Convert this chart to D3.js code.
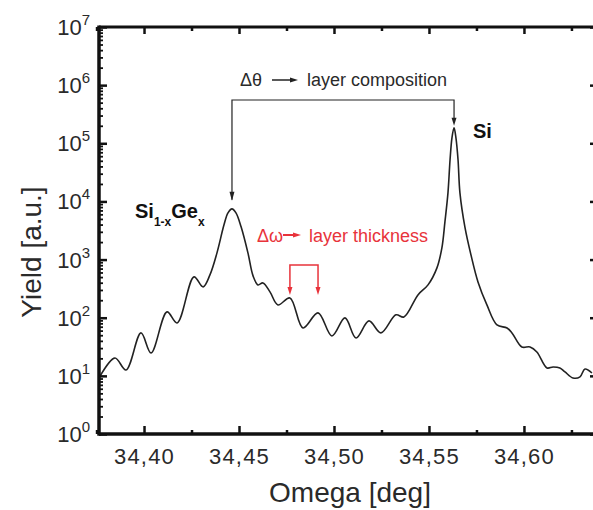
<!DOCTYPE html>
<html>
<head>
<meta charset="utf-8">
<script src="https://cdn.jsdelivr.net/npm/d3@7"></script>
<style>
  html, body { margin: 0; padding: 0; background: #fff; }
  svg { display: block; font-family: "Liberation Sans", Arial, sans-serif; }
</style>
</head>
<body>
<svg id="chart" width="593" height="510"></svg>
<script>
// Rocking curve scan: omega (deg) vs. measured yield (a.u.)
const omega = [
  34.3763, 34.3847, 34.3905, 34.3984, 34.4037, 34.4121, 34.4174, 34.4263, 34.4311,
  34.4347, 34.4384, 34.4421, 34.4442, 34.4463, 34.4484, 34.4511, 34.4547, 34.4574,
  34.4600, 34.4626, 34.4663, 34.4705, 34.4768, 34.4837, 34.4916, 34.4989, 34.5058,
  34.5116, 34.5184, 34.5247, 34.5326, 34.5368, 34.5442, 34.5495, 34.5542, 34.5568,
  34.5584, 34.5600, 34.5611, 34.5621, 34.5632, 34.5642, 34.5653, 34.5663, 34.5689,
  34.5721, 34.5758, 34.5805, 34.5858, 34.5911, 34.5937, 34.5989, 34.6032, 34.6068,
  34.6121, 34.6153, 34.6189, 34.6216, 34.6258, 34.6295, 34.6321, 34.6358
];
const yieldVals = [
  9.2, 20.3, 12.6, 54.8, 24.8, 126, 81.4, 504, 339,
  545, 1304, 3956, 6366, 7457, 6366, 3654, 1304, 524,
  367, 397, 278, 166, 219, 66.7, 121, 48.6, 99.2,
  44.9, 88.1, 54.8, 112, 103, 247, 367, 720, 1590,
  4456, 14060, 52000, 124400, 184800, 124400, 52000, 14060, 3654,
  1205, 413, 166, 75.2, 66.7, 54.8, 31.4, 31.4, 25.8,
  13.7, 14.2, 13.7, 11.7, 9.2, 9.6, 13.1, 11.2
];

// Axis ticks
const xMajorTicks = [34.40, 34.45, 34.50, 34.55, 34.60];
const xTickLabels = ["34,40", "34,45", "34,50", "34,55", "34,60"];
const xMinorTicks = [34.375, 34.425, 34.475, 34.525, 34.575, 34.625];
const yExponents = [0, 1, 2, 3, 4, 5, 6, 7];

// Annotated features
const layerPeak = { omega: 34.4463, y: 7457 };       // Si(1-x)Ge(x) layer peak
const substratePeak = { omega: 34.5632, y: 184800 }; // Si substrate peak
const fringePair = [34.4768, 34.4916];               // neighbouring thickness fringes

const svg = d3.select("#chart");
const mLeft = 99, mRight = 595, mTop = 27, mBottom = 434;

const x = d3.scaleLinear().domain([34.3763, 34.6374]).range([mLeft, mRight]);
const y = d3.scaleLog().domain([1, 1e7]).range([mBottom, mTop]);

const ink = "#111";
const textInk = "#2a2a2a";

// Data curve
const pts = omega.map((o, i) => [o, yieldVals[i]]);
const line = d3.line()
  .x(d => x(d[0]))
  .y(d => y(d[1]))
  .curve(d3.curveCatmullRom.alpha(0.5));

svg.append("path")
  .datum(pts)
  .attr("d", line)
  .attr("fill", "none")
  .attr("stroke", "#222")
  .attr("stroke-width", 1.6)
  .attr("stroke-linejoin", "round");

// Frame lines
const frame = svg.append("g").attr("stroke", ink).attr("fill", "none");
frame.append("line").attr("x1", mLeft).attr("x2", mRight).attr("y1", mBottom).attr("y2", mBottom).attr("stroke-width", 3.5);
frame.append("line").attr("x1", mLeft).attr("x2", mRight).attr("y1", mTop).attr("y2", mTop).attr("stroke-width", 3);
frame.append("line").attr("x1", mLeft).attr("x2", mLeft).attr("y1", mTop - 1.5).attr("y2", mBottom + 1.7).attr("stroke-width", 3.5);

// Bottom axis ticks (pointing inward)
const bottomAxis = d3.axisBottom(x).tickValues(xMajorTicks).tickSize(-8)
  .tickFormat((d, i) => xTickLabels[i]).tickPadding(14);
const gb = svg.append("g").attr("transform", `translate(0,${mBottom})`).call(bottomAxis);
gb.select(".domain").remove();
gb.selectAll(".tick line").attr("stroke", ink).attr("stroke-width", 2.5);
gb.selectAll(".tick text").attr("fill", textInk).attr("font-size", 22)
  .attr("letter-spacing", 1.2)
  .attr("font-family", "Liberation Sans, Arial, sans-serif");

const gbm = svg.append("g").attr("transform", `translate(0,${mBottom})`)
  .call(d3.axisBottom(x).tickValues(xMinorTicks).tickSize(-4).tickFormat(""));
gbm.select(".domain").remove();
gbm.selectAll(".tick line").attr("stroke", ink).attr("stroke-width", 2.5);

// Top axis ticks
const gt = svg.append("g").attr("transform", `translate(0,${mTop})`)
  .call(d3.axisTop(x).tickValues(xMajorTicks).tickSize(-7).tickFormat(""));
gt.select(".domain").remove();
gt.selectAll(".tick line").attr("stroke", ink).attr("stroke-width", 2.5);
const gtm = svg.append("g").attr("transform", `translate(0,${mTop})`)
  .call(d3.axisTop(x).tickValues(xMinorTicks).tickSize(-4).tickFormat(""));
gtm.select(".domain").remove();
gtm.selectAll(".tick line").attr("stroke", ink).attr("stroke-width", 2.5);

// Left axis: decades and minor ticks
const decades = yExponents.map(e => Math.pow(10, e));
const minors = [];
yExponents.slice(0, -1).forEach(e => {
  for (let k = 2; k <= 9; k++) minors.push(k * Math.pow(10, e));
});

const gl = svg.append("g").attr("transform", `translate(${mLeft},0)`)
  .call(d3.axisLeft(y).tickValues(decades).tickSize(-8).tickFormat(""));
gl.select(".domain").remove();
gl.selectAll(".tick line").attr("stroke", ink).attr("stroke-width", 2.5);
const glm = svg.append("g").attr("transform", `translate(${mLeft},0)`)
  .call(d3.axisLeft(y).tickValues(minors).tickSize(-4).tickFormat(""));
glm.select(".domain").remove();
glm.selectAll(".tick line").attr("stroke", ink).attr("stroke-width", 1.8);

// Right axis ticks (frame edge)
const gr = svg.append("g").attr("transform", `translate(${mRight},0)`)
  .call(d3.axisRight(y).tickValues(decades).tickSize(-5).tickFormat(""));
gr.select(".domain").remove();
gr.selectAll(".tick line").attr("stroke", ink).attr("stroke-width", 2.5);

// Y tick labels as 10^n
const ylab = svg.append("g").attr("fill", textInk);
yExponents.forEach(e => {
  const t = ylab.append("text")
    .attr("x", 90)
    .attr("y", y(Math.pow(10, e)) + 8)
    .attr("text-anchor", "end")
    .attr("font-size", 22);
  t.append("tspan").text("10");
  t.append("tspan").attr("dy", -10).attr("font-size", 15).text(String(e));
});

// Axis titles
svg.append("text")
  .attr("transform", `translate(41,252) rotate(-90)`)
  .attr("text-anchor", "middle")
  .attr("font-size", 28)
  .attr("fill", textInk)
  .text("Yield [a.u.]");

svg.append("text")
  .attr("x", 350)
  .attr("y", 502)
  .attr("text-anchor", "middle")
  .attr("font-size", 28)
  .attr("fill", textInk)
  .text("Omega [deg]");

// Arrow-head helpers: filled triangles pointing down or right
function headDown(g, cx, tipY, color, w, h) {
  g.append("path")
    .attr("d", `M${cx - w / 2},${tipY - h} L${cx + w / 2},${tipY - h} L${cx},${tipY} Z`)
    .attr("fill", color);
}
function headRight(g, tipX, cy, color, w, h) {
  g.append("path")
    .attr("d", `M${tipX - h},${cy - w / 2} L${tipX - h},${cy + w / 2} L${tipX},${cy} Z`)
    .attr("fill", color);
}

// Composition bracket between the two peaks
const ann = svg.append("g");
const bx1 = x(layerPeak.omega), bx2 = x(substratePeak.omega);
const by = 100;
ann.append("path")
  .attr("d", `M${bx1},${y(layerPeak.y) - 9} L${bx1},${by} L${bx2},${by} L${bx2},${y(substratePeak.y) - 8}`)
  .attr("fill", "none").attr("stroke", "#222").attr("stroke-width", 1.2);
headDown(ann, bx1, y(layerPeak.y) - 8, "#222", 5, 9);
headDown(ann, bx2, y(substratePeak.y) - 2, "#222", 5, 8);

ann.append("text").attr("x", 240).attr("y", 86).attr("font-size", 18).attr("fill", textInk).text("\u0394\u03b8");
ann.append("line").attr("x1", 272).attr("x2", 292).attr("y1", 80).attr("y2", 80)
  .attr("stroke", "#222").attr("stroke-width", 1.5);
headRight(ann, 298, 80, "#222", 5, 8);
ann.append("text").attr("x", 307).attr("y", 86).attr("font-size", 18).attr("fill", textInk).text("layer composition");

// Peak labels
ann.append("text").attr("x", 473).attr("y", 138).attr("font-size", 20)
  .attr("font-weight", "bold").attr("fill", "#111").text("Si");

const sg = ann.append("text").attr("x", 135).attr("y", 218).attr("font-size", 20)
  .attr("font-weight", "bold").attr("fill", "#111");
sg.append("tspan").text("Si");
sg.append("tspan").attr("dy", 8).attr("font-size", 12).text("1-x");
sg.append("tspan").attr("dy", -8).attr("font-size", 20).text("Ge");
sg.append("tspan").attr("dy", 8).attr("font-size", 12).text("x");

// Thickness fringe bracket (red)
const red = "#e8333b";
const fx1 = x(fringePair[0]), fx2 = x(fringePair[1]);
const fTop = 265, fTip = 295;
ann.append("path")
  .attr("d", `M${fx1},${fTip - 4} L${fx1},${fTop} L${fx2},${fTop} L${fx2},${fTip - 4}`)
  .attr("fill", "none").attr("stroke", red).attr("stroke-width", 1.5);
headDown(ann, fx1, fTip, red, 5, 8);
headDown(ann, fx2, fTip, red, 5, 8);

ann.append("text").attr("x", 257).attr("y", 242).attr("font-size", 18).attr("fill", red).text("\u0394\u03c9");
ann.append("line").attr("x1", 283).attr("x2", 295).attr("y1", 235).attr("y2", 235)
  .attr("stroke", red).attr("stroke-width", 2);
headRight(ann, 301, 235, red, 5, 8);
ann.append("text").attr("x", 309).attr("y", 242).attr("font-size", 18).attr("fill", red).text("layer thickness");
</script>
</body>
</html>
